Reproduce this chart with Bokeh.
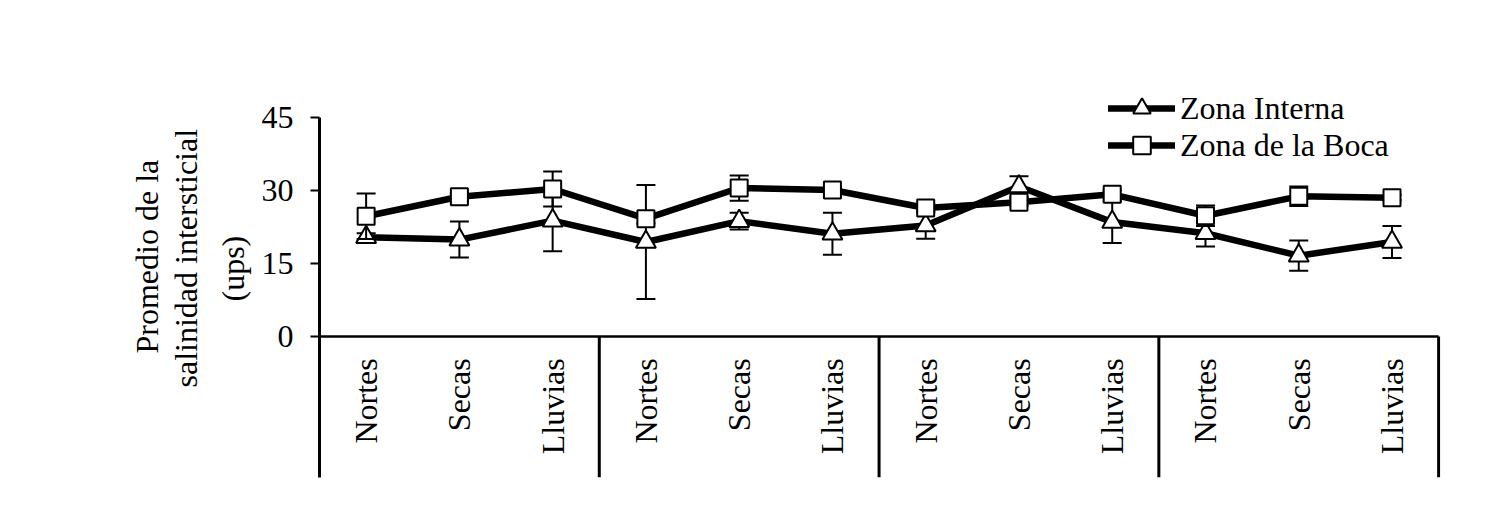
import math
from bokeh.plotting import figure
from bokeh.models import Range1d, FixedTicker, Legend, LegendItem, Title
from bokeh.core.properties import value
from bokeh.embed import file_html
from bokeh.resources import INLINE

# ---- data ----
seasons = ["Nortes", "Secas", "Lluvias", "Nortes", "Secas", "Lluvias",
           "Nortes", "Secas", "Lluvias", "Nortes", "Secas", "Lluvias"]
interna = [20.4, 19.9, 23.8, 19.4, 23.7, 21.1, 22.8, 30.8, 23.5, 21.2, 16.6, 19.4]
interna_err = [0.8, 3.7, 6.3, 11.7, 1.7, 4.3, 2.7, 2.1, 4.3, 2.7, 3.1, 3.3]
boca = [24.7, 28.7, 30.3, 24.2, 30.5, 30.1, 26.4, 27.6, 29.2, 24.8, 28.8, 28.5]
boca_err = [4.7, 0.8, 3.6, 1.0, 2.6, 0.5, 0.8, 0.8, 0.8, 2.1, 2.0, 0.5]
y_ticks = [0, 15, 30, 45]
series_names = ["Zona Interna", "Zona de la Boca"]
title_lines = ["Promedio de la", "salinidad intersticial", "(ups)"]
group_size = 3

FONT = "Liberation Serif"
FS = "32px"

n = len(seasons)
xs = [i + 0.5 for i in range(n)]
Y_BOTTOM = -29
Y_TOP_AXIS = 45

p = figure(width=1470, height=490, output_backend="svg", toolbar_location=None,
           x_range=Range1d(0, n + 0.02), y_range=Range1d(Y_BOTTOM, 54.66),
           x_axis_type=None, min_border_left=319, min_border_right=30,
           min_border_top=70, min_border_bottom=13)
p.outline_line_color = None
p.xgrid.visible = False
p.ygrid.visible = False
p.background_fill_color = "white"
p.border_fill_color = "white"

yax = p.yaxis[0]
yax.ticker = FixedTicker(ticks=y_ticks)
yax.bounds = (Y_BOTTOM, Y_TOP_AXIS)
yax.axis_line_width = 3
yax.axis_line_color = "black"
yax.major_tick_line_width = 2
yax.major_tick_line_color = "black"
yax.major_tick_out = 9
yax.major_tick_in = 0
yax.minor_tick_out = 0
yax.minor_tick_in = 0
yax.major_label_text_font = FONT
yax.major_label_text_font_size = FS
yax.major_label_text_color = "black"
yax.major_label_standoff = 17

# y-axis title, three lines (innermost added first)
for t, off, so in zip(reversed(title_lines), [176, 90, 124], [16, 1, 1]):
    p.add_layout(Title(text=t, align="left", offset=off, standoff=so,
                       text_font=FONT, text_font_size=FS, text_font_style="normal",
                       text_color="black"), "left")

# zero line and group dividers
p.segment(x0=[0], y0=[0], x1=[n], y1=[0], line_color="black", line_width=2.5)
div_x = list(range(group_size, n + 1, group_size))
p.segment(x0=div_x, y0=[0] * len(div_x), x1=div_x, y1=[Y_BOTTOM] * len(div_x),
          line_color="black", line_width=3)

# category labels
p.text(x=xs, y=[-4.5] * n, text=seasons, angle=math.pi / 2, text_align="right",
       text_baseline="middle", text_font=value(FONT), text_font_size=FS, text_color="black")

def draw_series(vals, errs, marker, size):
    lo = [v - e for v, e in zip(vals, errs)]
    hi = [v + e for v, e in zip(vals, errs)]
    p.segment(x0=xs, y0=lo, x1=xs, y1=hi, line_color="black", line_width=2)
    p.scatter(x=xs + xs, y=lo + hi, marker="dash", size=19, line_color="black", line_width=2)
    ln = p.line(x=xs, y=vals, line_color="black", line_width=6.5, line_join="round", line_cap="round")
    mk = p.scatter(x=xs, y=vals, marker=marker, size=size, fill_color="white",
                   line_color="black", line_width=2)
    return ln, mk

l1, m1 = draw_series(interna, interna_err, "triangle", 20)
l2, m2 = draw_series(boca, boca_err, "square", 17)

for name, rends, loc in [(series_names[0], [l1, m1], (789, 347)),
                         (series_names[1], [l2, m2], (789, 310))]:
    lg = Legend(items=[LegendItem(label=name, renderers=rends)], location=loc)
    lg.glyph_width = 67
    lg.glyph_height = 44
    lg.label_height = 38
    lg.spacing = 0
    lg.padding = 0
    lg.margin = 0
    lg.label_standoff = 5
    lg.border_line_color = None
    lg.background_fill_alpha = 0
    lg.label_text_font = FONT
    lg.label_text_font_size = FS
    lg.label_text_color = "black"
    lg.label_text_baseline = "middle"
    p.add_layout(lg, "center")

open("out.html", "w").write(file_html(p, INLINE))
